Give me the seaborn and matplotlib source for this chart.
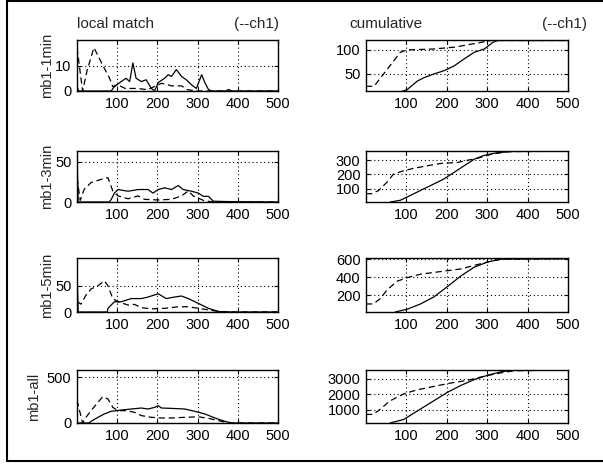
import matplotlib
matplotlib.use("Agg")
import matplotlib.pyplot as plt
import seaborn as sns
from matplotlib.lines import Line2D

# local match (left column), solid = mb1, dashed = ch1
lm1_solid_x = [0, 4, 85, 93, 110, 122, 131, 139, 147, 160, 172, 185, 193, 202, 218, 227, 235, 247, 260, 272, 285, 297, 310, 318, 327, 335, 370, 377, 385, 500]
lm1_solid_y = [2, 0, 0, 1.7, 3.7, 5, 3.7, 11, 5, 3.7, 4.4, 1, 0, 3.3, 5, 6.4, 5.7, 8.4, 5.7, 4.4, 2.4, 1, 6.4, 3.3, 0.6, 0, 0, 0.6, 0, 0]
lm1_dash_x = [0, 14, 25, 42, 55, 63, 81, 89, 100, 120, 152, 175, 196, 210, 225, 235, 260, 275, 300, 500]
lm1_dash_y = [17, 0, 8, 17, 13, 10.4, 5, 1.7, 2.5, 1, 1, 0.5, 2, 3, 2.5, 2, 2, 0.5, 0, 0]

lm2_solid_x = [0, 3, 80, 85, 93, 102, 127, 152, 177, 189, 202, 218, 235, 252, 264, 285, 302, 314, 327, 339, 377, 500]
lm2_solid_y = [60, 0, 0, 3, 11, 15.4, 13.3, 15.4, 15.4, 11, 15.4, 17.5, 15.4, 20.4, 15.4, 13.3, 11, 7, 7, 1, 0.5, 0]
lm2_dash_x = [0, 8, 18, 35, 60, 77, 89, 102, 127, 152, 168, 202, 235, 260, 277, 289, 318, 343, 500]
lm2_dash_y = [30, 2, 15.8, 24, 28, 30, 13.75, 7.5, 4, 7.5, 3.3, 2.5, 3.3, 7.5, 13.75, 7.5, 1.25, 0, 0]

lm3_solid_x = [0, 3, 75, 77, 93, 110, 135, 160, 177, 202, 222, 243, 260, 277, 302, 327, 352, 385, 500]
lm3_solid_y = [75, 0, 0, 7, 19.5, 19.5, 25.6, 25.6, 28.6, 34.8, 25.6, 28.6, 30.5, 25.6, 16.4, 7, 1, 0, 0]
lm3_dash_x = [0, 10, 22, 35, 52, 68, 77, 89, 102, 127, 143, 160, 185, 218, 252, 277, 302, 327, 352, 377, 500]
lm3_dash_y = [20, 15, 31.8, 44, 50, 59.5, 50, 25.6, 19.5, 13.3, 14.5, 8.3, 5.9, 7, 10, 10, 7, 4, 1, 0, 0]

lm4_solid_x = [0, 30, 35, 52, 68, 85, 110, 135, 160, 177, 193, 202, 210, 235, 268, 293, 318, 343, 368, 385, 500]
lm4_solid_y = [0, 0, 18, 62, 99, 128, 142, 153, 164, 153, 171, 190, 164, 160, 153, 128, 99, 55, 18, 0, 0]
lm4_dash_x = [0, 14, 22, 35, 52, 64, 77, 89, 102, 122, 143, 160, 185, 210, 235, 268, 302, 327, 352, 377, 500]
lm4_dash_y = [250, 0, 60, 135, 226, 288, 263, 171, 135, 135, 117, 81, 62, 55, 55, 62, 68, 51, 26, 0, 0]

# cumulative (right column)
cu1_solid_x = [85, 102, 127, 143, 168, 193, 218, 243, 268, 293, 314, 327, 500]
cu1_solid_y = [11, 16, 34, 41, 49, 56, 66, 81, 95, 102, 116, 120, 120]
cu1_dash_x = [0, 20, 85, 102, 168, 220, 285, 310, 500]
cu1_dash_y = [23, 23, 95, 100, 102, 106, 116, 120, 120]

cu2_solid_x = [60, 85, 110, 143, 168, 193, 218, 243, 268, 293, 327, 368, 500]
cu2_solid_y = [8, 20, 54, 100, 134, 169, 215, 261, 307, 334, 353, 362, 362]
cu2_dash_x = [0, 14, 31, 52, 68, 93, 118, 152, 185, 227, 252, 277, 310, 352, 500]
cu2_dash_y = [66, 66, 88, 146, 203, 226, 243, 261, 277, 284, 300, 314, 341, 360, 362]

cu3_solid_x = [72, 102, 135, 168, 202, 235, 268, 302, 335, 500]
cu3_solid_y = [14, 45, 103, 181, 297, 414, 511, 569, 600, 605]
cu3_dash_x = [0, 18, 35, 52, 77, 102, 135, 168, 202, 235, 268, 302, 335, 500]
cu3_dash_y = [103, 103, 161, 258, 355, 394, 433, 452, 472, 491, 530, 569, 600, 605]

cu4_solid_x = [60, 93, 127, 168, 202, 235, 268, 302, 335, 368, 500]
cu4_solid_y = [174, 391, 935, 1587, 2130, 2565, 2935, 3217, 3435, 3540, 3545]
cu4_dash_x = [0, 18, 35, 60, 93, 127, 168, 210, 252, 293, 335, 368, 500]
cu4_dash_y = [717, 717, 1043, 1587, 2022, 2283, 2500, 2717, 2891, 3152, 3370, 3500, 3545]

row_labels = ["mb1-1min", "mb1-3min", "mb1-5min", "mb1-all"]
x_ticks = [100, 200, 300, 400, 500]
lm_yticks = [[0, 10], [0, 50], [0, 50], [0, 500]]
lm_ylims = [(0, 20), (0, 63), (0, 103), (0, 580)]
cu_yticks = [[50, 100], [100, 200, 300], [200, 400, 600], [1000, 2000, 3000]]
cu_ylims = [(13, 121), (8, 364), (14, 612), (170, 3545)]

local_series = [(lm1_solid_x, lm1_solid_y, lm1_dash_x, lm1_dash_y),
                (lm2_solid_x, lm2_solid_y, lm2_dash_x, lm2_dash_y),
                (lm3_solid_x, lm3_solid_y, lm3_dash_x, lm3_dash_y),
                (lm4_solid_x, lm4_solid_y, lm4_dash_x, lm4_dash_y)]
cum_series = [(cu1_solid_x, cu1_solid_y, cu1_dash_x, cu1_dash_y),
              (cu2_solid_x, cu2_solid_y, cu2_dash_x, cu2_dash_y),
              (cu3_solid_x, cu3_solid_y, cu3_dash_x, cu3_dash_y),
              (cu4_solid_x, cu4_solid_y, cu4_dash_x, cu4_dash_y)]

sns.set_style("white")
plt.rcParams['font.family'] = ['Liberation Sans', 'DejaVu Sans']

W, H = 603, 466
fig = plt.figure(figsize=(W / 100, H / 100), dpi=100)

# axes boxes in pixels (top, bottom)
rows_px = [(40, 91), (151, 202), (258, 312), (370, 423)]
cols_px = [(77, 278), (366, 568)]
# x position of the row label (axes fraction), further out when tick labels are wider
label_x = [-0.112, -0.112, -0.112, -0.18]


def px_box(x0, x1, top, bottom):
    return [x0 / W, 1 - bottom / H, (x1 - x0) / W, (bottom - top) / H]


def style_ax(ax, yticks, ylim):
    ax.set_xlim(0, 500)
    ax.set_ylim(*ylim)
    ax.set_xticks(x_ticks)
    ax.set_yticks(yticks)
    ax.grid(True, color="black", linestyle=(0, (1, 2.5)), linewidth=0.8)
    ax.tick_params(direction="in", length=3, labelsize=10.5, pad=4,
                   top=True, right=True, bottom=True, left=True,
                   colors="black")
    for sp in ax.spines.values():
        sp.set_color("black")
        sp.set_linewidth(1.0)
    ax.set_xlabel("")
    ax.set_ylabel("")


for i, (top, bottom) in enumerate(rows_px):
    # local match
    ax = fig.add_axes(px_box(cols_px[0][0], cols_px[0][1], top, bottom))
    sx, sy, dx, dy = local_series[i]
    sns.lineplot(x=sx, y=sy, ax=ax, color="black", linewidth=0.9)
    sns.lineplot(x=dx, y=dy, ax=ax, color="black", linewidth=0.9, linestyle=(0, (5, 3)))
    style_ax(ax, lm_yticks[i], lm_ylims[i])
    ax.set_ylabel(row_labels[i], fontsize=10.5)
    ax.yaxis.set_label_coords(label_x[i], 0.5)

    # cumulative
    ax = fig.add_axes(px_box(cols_px[1][0], cols_px[1][1], top, bottom))
    sx, sy, dx, dy = cum_series[i]
    sns.lineplot(x=sx, y=sy, ax=ax, color="black", linewidth=0.9)
    sns.lineplot(x=dx, y=dy, ax=ax, color="black", linewidth=0.9, linestyle=(0, (5, 3)))
    style_ax(ax, cu_yticks[i], cu_ylims[i])

# column headings
base = 1 - 28 / H
fig.text(77 / W, base, "local match", fontsize=11, ha="left", va="baseline")
fig.text(279 / W, base, "(--ch1)", fontsize=11, ha="right", va="baseline")
fig.text(349 / W, base, "cumulative", fontsize=11, ha="left", va="baseline")
fig.text(587 / W, base, "(--ch1)", fontsize=11, ha="right", va="baseline")

# scanned page frame
fig.add_artist(Line2D([7 / W, 7 / W], [1 - 1 / H, 1 - 461 / H], transform=fig.transFigure,
                      color="black", linewidth=1.5))
fig.add_artist(Line2D([7 / W, 1], [1 - 1 / H, 1 - 1 / H], transform=fig.transFigure,
                      color="black", linewidth=1.5))
fig.add_artist(Line2D([7 / W, 1], [1 - 461 / H, 1 - 461 / H], transform=fig.transFigure,
                      color="black", linewidth=1.5))

fig.savefig("out.png", dpi=100)
